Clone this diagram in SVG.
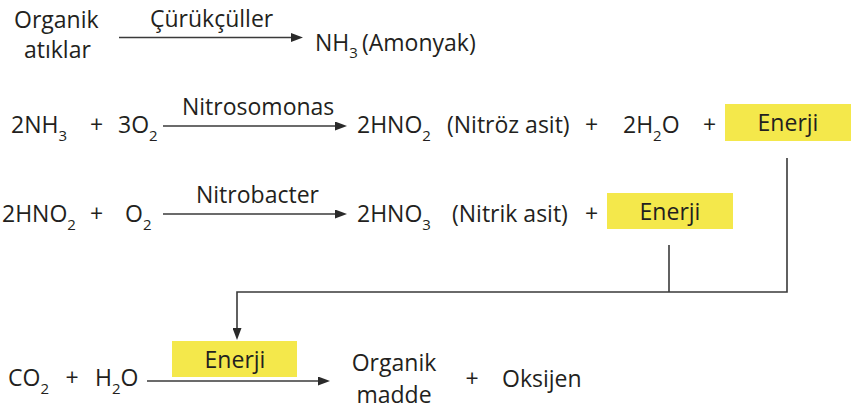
<svg xmlns="http://www.w3.org/2000/svg" width="860" height="411" viewBox="0 0 860 411">
<defs>
<style>
text{font-family:"Open Sans","Noto Sans","Liberation Sans",sans-serif;font-size:23px;fill:#231f20}
.sub{font-size:15px}
.c{text-anchor:middle}
.box{fill:#f4e84b}
.ln{stroke:#3a3a3a;stroke-width:1.6;fill:none}
</style>
<marker id="ah" viewBox="0 0 12 9" refX="0" refY="4.5" markerWidth="12" markerHeight="9" markerUnits="userSpaceOnUse" orient="auto">
<path d="M0,0 L12,4.5 L0,9 z" fill="#2a2a2a"/>
</marker>
</defs>
<rect width="860" height="411" fill="#ffffff"/>

<g id="connectors">
<line class="ln" x1="119" y1="37.5" x2="291" y2="37.5" marker-end="url(#ah)"/>
<line class="ln" x1="163" y1="126" x2="335" y2="126" marker-end="url(#ah)"/>
<line class="ln" x1="163" y1="214" x2="335" y2="214" marker-end="url(#ah)"/>
<line class="ln" x1="147" y1="381" x2="318" y2="381" marker-end="url(#ah)"/>
<polyline class="ln" points="787,158 787,292 237,292 237,328" marker-end="url(#ah)"/>
<line class="ln" x1="669" y1="245" x2="669" y2="292"/>
</g>

<g id="row1">
<text x="14" y="28">Organik</text>
<text x="24" y="58">atıklar</text>
<text x="150" y="27">Çürükçüller</text>
<text x="315" y="51">NH<tspan class="sub" dy="7">3</tspan></text><text x="362" y="51">(Amonyak)</text>
</g>

<g id="row2">
<text x="11" y="133">2NH<tspan class="sub" dy="8">3</tspan></text>
<text class="c" x="96.5" y="133">+</text>
<text x="118" y="133">3O<tspan class="sub" dy="8">2</tspan></text>
<text x="182" y="115">Nitrosomonas</text>
<text x="357" y="133">2HNO<tspan class="sub" dy="8">2</tspan></text>
<text x="447" y="133">(Nitröz asit)</text>
<text class="c" x="591.5" y="133">+</text>
<text x="623" y="133">2H<tspan class="sub" dy="8">2</tspan><tspan dy="-8">O</tspan></text>
<text class="c" x="709.5" y="133">+</text>
</g>

<g id="enerji1">
<rect class="box" x="725" y="104" width="126" height="37"/>
<text class="c" x="788" y="131">Enerji</text>
</g>

<g id="row3">
<text x="2" y="222">2HNO<tspan class="sub" dy="8">2</tspan></text>
<text class="c" x="96.5" y="222">+</text>
<text x="125" y="222">O<tspan class="sub" dy="8">2</tspan></text>
<text x="196" y="203">Nitrobacter</text>
<text x="357" y="222">2HNO<tspan class="sub" dy="8">3</tspan></text>
<text x="452" y="222">(Nitrik asit)</text>
<text class="c" x="591.5" y="222">+</text>
</g>

<g id="enerji2">
<rect class="box" x="607" y="193" width="126" height="36"/>
<text class="c" x="670" y="220">Enerji</text>
</g>

<g id="row4">
<text x="8" y="386">CO<tspan class="sub" dy="8">2</tspan></text>
<text class="c" x="72" y="386">+</text>
<text x="95" y="386">H<tspan class="sub" dy="8">2</tspan><tspan dy="-8">O</tspan></text>
<text class="c" x="394" y="371">Organik</text>
<text class="c" x="394" y="403">madde</text>
<text class="c" x="472" y="387">+</text>
<text x="502" y="387">Oksijen</text>
</g>

<g id="enerji3">
<rect class="box" x="172" y="341" width="125" height="36"/>
<text class="c" x="235" y="368">Enerji</text>
</g>
</svg>
